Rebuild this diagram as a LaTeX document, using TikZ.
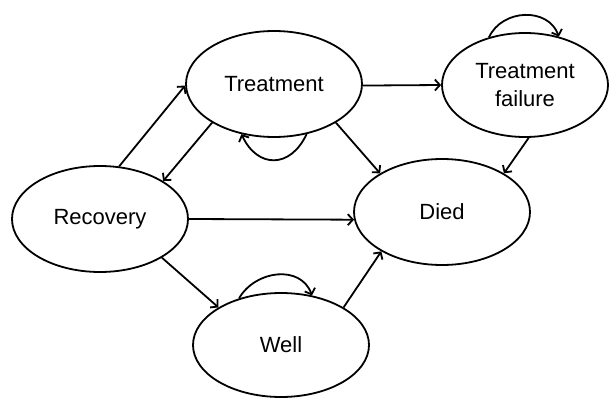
\documentclass[tikz,border=0pt]{standalone}
\usepackage{fontspec}
\setmainfont{Liberation Sans}
\usetikzlibrary{shapes.geometric,arrows.meta}

\tikzset{
    state/.style={ellipse, draw, line width=1.8pt, inner sep=0pt,
        minimum width=176pt, minimum height=106pt,
        font=\fontsize{22}{28}\selectfont, align=center},
    trans/.style={line width=1.8pt, -{Straight Barb[length=5pt,width=11pt]}}
}

\begin{document}
\begin{tikzpicture}[x=1pt,y=1pt]
    \useasboundingbox (0,0) rectangle (609,-398);
    \node[state] (treat) at (274,-84) {Treatment};
    \node[state, minimum width=166pt, minimum height=104pt] (fail) at (525,-85) {Treatment\\failure};
    \node[state] (rec) at (100,-219) {Recovery};
    \node[state] (died) at (442,-212) {Died};
    \node[state, minimum height=104pt] (well) at (281,-345) {Well};

    \draw[trans] (rec.70) -- (treat.181);
    \draw[trans] (treat.212) -- (rec.31);
    \draw[trans] (treat.359) -- (fail.180);
    \draw[trans] (treat.328) -- (died.148);
    \draw[trans] (fail.274) -- (died.32);
    \draw[trans] (rec.0) -- (died.185);
    \draw[trans] (rec.328) -- (well.149);
    \draw[trans] (well.31) -- (died.213);

    \draw[trans] (treat.303) to[out=245, in=295, looseness=1.5] (treat.237);
    \draw[trans] (well.132) to[out=60, in=110, looseness=1.15] (well.58);
    \draw[trans] (fail.127) to[out=65, in=110, looseness=1.15] (fail.55);
\end{tikzpicture}
\end{document}
